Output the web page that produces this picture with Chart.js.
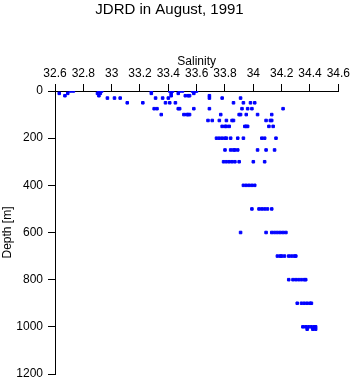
<!DOCTYPE html>
<html>
<head>
<meta charset="utf-8">
<script src="https://cdn.jsdelivr.net/npm/chart.js@4/dist/chart.umd.min.js"></script>
<style>
html,body{margin:0;padding:0;background:#fff;}
#wrap{width:353px;height:384px;position:relative;}
</style>
</head>
<body>
<div id="wrap"><canvas id="c" width="353" height="384"></canvas></div>
<script>
const chartTitle = "JDRD in August, 1991";
const xTitle = "Salinity";
const yTitle = "Depth [m]";
const xTicks = [32.6, 32.8, 33, 33.2, 33.4, 33.6, 33.8, 34, 34.2, 34.4, 34.6];
const yTicks = [0, 200, 400, 600, 800, 1000, 1200];

// observation depths (m), parallel to salinity values below
const depth = [
  0,0,0,0,0,0,0,0,0,0,0,0,
  10,10,10,10,10,10,10,10,
  20,20,20,20,20,20,20,
  30,30,30,30,30,30,30,30,30,
  50,50,50,50,50,50,50,50,50,
  75,75,75,75,75,75,75,75,75,75,
  100,100,100,100,100,100,100,100,100,100,100,
  125,125,125,125,125,125,125,125,125,
  150,150,150,150,150,150,150,150,150,
  200,200,200,200,200,200,200,200,200,200,200,
  250,250,250,250,250,250,250,250,
  300,300,300,300,300,300,300,300,
  400,400,400,400,400,
  500,500,500,500,500,500,
  600,600,600,600,600,600,600,600,
  700,700,700,700,700,700,700,700,
  800,800,800,800,800,800,800,
  900,900,900,900,900,900,
  1000,1000,1000,1000,1000,1000,
  1010,1010,1010
];
const salinity = [
  32.71,32.73,32.91,32.93,33.28,33.41,33.43,33.48,33.50,33.57,33.59,33.60,
  32.63,32.69,32.90,32.92,33.28,33.42,33.47,33.58,
  32.67,32.91,33.42,33.52,33.54,33.55,33.69,
  32.97,33.02,33.06,33.31,33.36,33.40,33.69,33.78,33.91,
  33.11,33.22,33.38,33.41,33.45,33.86,33.93,33.98,34.01,
  33.30,33.32,33.47,33.48,33.58,33.69,33.92,33.96,33.99,34.21,
  33.35,33.51,33.53,33.54,33.55,33.77,33.90,33.91,33.95,34.03,34.13,
  33.68,33.71,33.76,33.81,33.85,33.86,34.09,34.12,34.13,
  33.78,33.80,33.81,33.83,33.94,33.95,33.96,34.11,34.14,
  33.74,33.76,33.78,33.80,33.81,33.84,33.89,33.93,34.06,34.08,34.16,
  33.80,33.84,33.86,33.87,33.89,34.03,34.09,34.15,
  33.79,33.81,33.83,33.85,33.87,33.90,34.00,34.08,
  33.93,33.95,33.97,33.99,34.01,
  33.99,34.04,34.06,34.08,34.10,34.13,
  33.91,34.09,34.13,34.15,34.17,34.19,34.21,34.23,
  34.17,34.19,34.20,34.22,34.25,34.27,34.29,34.30,
  34.25,34.28,34.30,34.32,34.34,34.36,34.37,
  34.31,34.34,34.36,34.38,34.40,34.41,
  34.35,34.37,34.39,34.41,34.43,34.44,
  34.38,34.42,34.44
];

const points = salinity.map((s, i) => ({x: s, y: depth[i]}));
const FONT = "'Liberation Sans', Arial, Helvetica, sans-serif";
Chart.defaults.color = '#000';
Chart.defaults.font.family = FONT;

new Chart(document.getElementById('c'), {
  type: 'scatter',
  data: {
    datasets: [{
      data: points,
      pointStyle: 'rect',
      pointRadius: 1.8,
      backgroundColor: '#0000ff',
      borderColor: '#0000ff',
      borderWidth: 1
    }]
  },
  options: {
    responsive: false,
    animation: false,
    events: [],
    layout: {padding: {left: 0, right: 14, top: 0, bottom: 10}},
    plugins: {
      legend: {display: false},
      tooltip: {enabled: false},
      title: {
        display: true,
        text: chartTitle,
        color: '#000',
        font: {family: FONT, size: 15, weight: 'normal'},
        padding: {top: 1, bottom: 0}
      }
    },
    scales: {
      x: {
        type: 'linear',
        position: 'top',
        min: 32.6, max: 34.6,
        afterBuildTicks: (a) => { a.ticks = xTicks.map(v => ({value: v})); },
        ticks: {
          font: {family: FONT, size: 12},
          color: '#000',
          padding: 3,
          maxRotation: 0,
          callback: (v) => String(Math.round(v * 10) / 10)
        },
        grid: {drawOnChartArea: false, drawTicks: true, tickLength: 7, color: '#000', lineWidth: 1},
        border: {display: true, color: '#000', width: 1},
        title: {display: true, text: xTitle, font: {family: FONT, size: 12}, color: '#000', padding: {top: 35, bottom: 0}},
        afterFit: (a) => { a.height = 72; }
      },
      y: {
        type: 'linear',
        position: 'left',
        reverse: true,
        min: 0, max: 1200,
        afterBuildTicks: (a) => { a.ticks = yTicks.map(v => ({value: v})); },
        ticks: {font: {family: FONT, size: 12}, color: '#000', padding: 5, callback: (v) => String(v)},
        grid: {drawOnChartArea: false, drawTicks: true, tickLength: 7, color: '#000', lineWidth: 1},
        border: {display: true, color: '#000', width: 1},
        title: {display: true, text: yTitle, font: {family: FONT, size: 12}, color: '#000', padding: {top: 0, bottom: 0}},
        afterFit: (a) => { a.width = 55; a.paddingBottom = 0; a.paddingTop = 0; }
      }
    }
  }
});
</script>
</body>
</html>
